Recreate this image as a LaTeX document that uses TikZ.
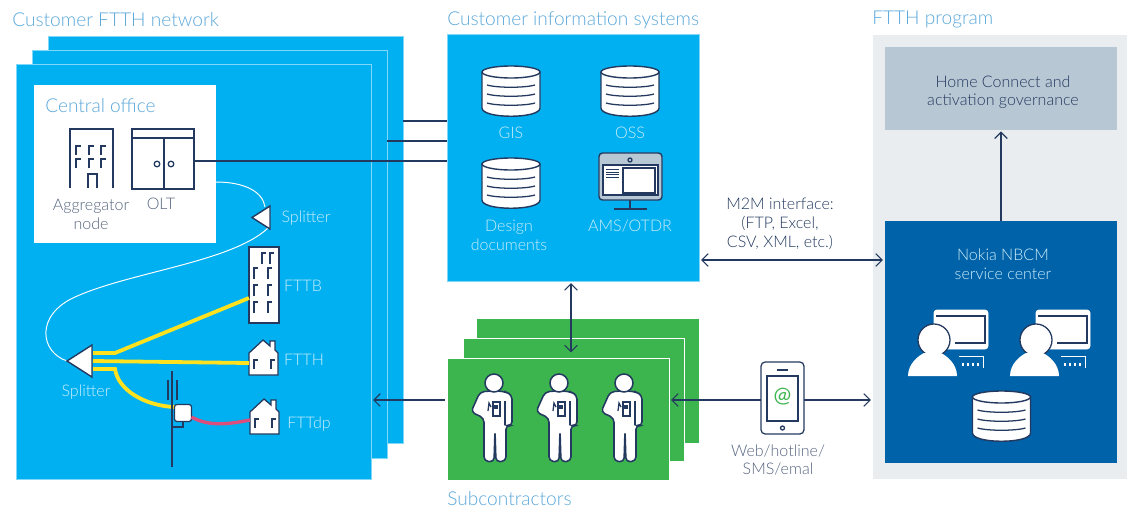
\documentclass[tikz,border=0pt]{standalone}
\usepackage{xcolor}
\usepackage{fontspec}
\setmainfont{Lato Light}
\newfontfamily\atfont{Lato}
\usetikzlibrary{calc,arrows.meta}

\definecolor{cyanbox}{HTML}{00B0F0}
\definecolor{edgeblue}{HTML}{7FD8F8}
\definecolor{greenbox}{HTML}{3DB54E}
\definecolor{navybox}{HTML}{0062A8}
\definecolor{inkline}{HTML}{24395F}
\definecolor{titleblue}{HTML}{5BA8DA}
\definecolor{paleblue}{HTML}{CDEEFB}
\definecolor{greytext}{HTML}{56657F}
\definecolor{panelgrey}{HTML}{E9EDF0}
\definecolor{govgrey}{HTML}{B8C7D4}
\definecolor{fibreyellow}{HTML}{FFE21F}
\definecolor{fibrered}{HTML}{DC4F7C}

\tikzset{
	panel/.style={rectangle,outer sep=0pt,inner sep=0pt,fill=cyanbox,draw=edgeblue,line width=0.6pt},
	titletext/.style={text=titleblue,font=\fontsize{13.6}{15}\selectfont,anchor=west,inner sep=0pt},
	smalltext/.style={text=greytext,font=\fontsize{11.4}{13.5}\selectfont,align=center,inner sep=0pt},
	paletext/.style={smalltext,text=paleblue},
	link/.style={draw=inkline,line width=0.9pt},
	barb/.tip={Straight Barb[length=4.5pt,width=9pt,line width=0.8pt]},
	flow/.style={link,shorten <=1.5pt,shorten >=1.5pt,arrows={barb-}},
	icon/.style={draw=inkline,fill=white,line width=0.9pt},
	fibrewhite/.style={draw=white,line width=0.7pt},
	fibreline/.style={draw=fibreyellow,line width=2.7pt},
	dbicon/.pic={
		\draw[icon,line width=1pt] (-29,-19) -- (-29,17) .. controls (-29,28) and (29,28) .. (29,17) -- (29,-19);
		\draw[icon,line width=1pt] (0,-19) ellipse [x radius=29,y radius=6];
		\foreach \dy in {-6,3,12}
			\draw[link] (-24,\dy) .. controls (-14,\dy+3) and (14,\dy+3) .. (24,\dy);
	},
	houseicon/.pic={
		\draw[icon] (0,0) -- (0,-22) -- (14,-35) -- (21,-29) -- (21,-34) -- (26,-34) -- (26,-25) -- (29,-22) -- (29,0) -- cycle;
		\foreach \wx in {5,22}
			\draw[link] (\wx,-6) -- (\wx,-15) -- (\wx+4,-15);
	},
	workericon/.pic={
		\draw[icon,line width=1.1pt,rounded corners=3pt] (-5,8) -- (-14,9) -- (-23,29) -- (-10,35) -- (-10,78) -- (0,79) -- (1,48) -- (2,79) -- (12,78) -- (12,42) -- (18,43) -- (18,12) -- (12,9) -- (5,8) -- cycle;
		\draw[icon,line width=1.1pt] (0,0) circle [radius=9];
		\draw[link,fill=white] (-1,19) rectangle (6,33);
		\draw[link] (-6,28) -- (-5,20) -- (-3,24);
		\fill[inkline] (0,22) rectangle (4,26);
		\draw[link] (11,18) -- (11,42);
	},
	operatoricon/.pic={
		\draw[draw=white,fill=white,rounded corners=2pt] (0,-30) rectangle (54,9);
		\draw[link] (2,-24) -- (51,-24) -- (51,3) -- (21,3);
		\draw[icon] (0,0) circle [radius=16];
		\fill[white] (-26,36) .. controls (-26,24) and (-16,16) .. (-10,13) -- (7,13) .. controls (13,16) and (23,24) .. (23,36) -- cycle;
		\draw[white,line width=0.7pt] (25,16) -- (49,16) -- (49,28);
		\foreach \kx in {29,34,39,44}
			\draw[white,line width=0.9pt] (\kx,23) -- (\kx,26);
	}
}

\begin{document}
\begin{tikzpicture}[x=0.025cm,y=-0.025cm]
	\useasboundingbox (0,0) rectangle (1127,508);

	% customer network sheets
	\node (custA) [panel,minimum width=8.875cm,minimum height=10.175cm] at (225.5,239.5) {};
	\node (custB) [panel,minimum width=8.875cm,minimum height=10.2cm] at (209.5,254) {};
	\node (custC) [panel,minimum width=8.875cm,minimum height=10.375cm] at (193.5,271.5) {};
	\node (office) [panel,fill=white,draw=none,minimum width=4.55cm,minimum height=3.95cm] at (125,164) {};

	% main boxes
	\node (cis) [panel,minimum width=6.3cm,minimum height=6.175cm] at (573,157.5) {};
	\node (subA) [panel,fill=greenbox,draw=none,minimum width=5.55cm,minimum height=3.1cm] at (588,381) {};
	\node (subB) [panel,fill=greenbox,draw=white,minimum width=5.525cm,minimum height=3.075cm] at (573.5,399.5) {};
	\node (subC) [panel,fill=greenbox,draw=white,minimum width=5.55cm,minimum height=3.05cm] at (558,419) {};
	\node (program) [panel,fill=panelgrey,draw=none,minimum width=6.35cm,minimum height=11.1cm] at (1000,257) {};
	\node (governance) [panel,fill=govgrey,draw=none,minimum width=5.8cm,minimum height=2.075cm] at (1001,88.5) {};
	\node (nbcm) [panel,fill=navybox,draw=none,minimum width=5.8cm,minimum height=6.05cm] at (1001,342) {};
	\node (govlabel) [smalltext,text=inkline,font=\fontsize{11.4}{12.5}\selectfont] at (1003,92) {Home Connect and\\activation governance};

	% titles
	\node (titleA) [titletext] at (12,20) {Customer FTTH network};
	\node (titleB) [titletext] at (447,20) {Customer information systems};
	\node (titleC) [titletext] at (872,20) {FTTH program};
	\node (titleD) [titletext] at (447,499) {Subcontractors};
	\node (titleE) [titletext] at (45,106) {Central office};

	% central office
	\draw[link] (70,188) -- (70,129) -- (113,129) -- (113,188);
	\foreach \wx in {76,89,101}
		\foreach \wy in {146,159}
			\draw[link] (\wx,\wy+9) -- (\wx,\wy) -- (\wx+5,\wy);
	\draw[link] (88,188) -- (88,174) -- (97,174) -- (97,188);
	\node (olt) [rectangle,draw=inkline,line width=0.9pt,outer sep=0pt,minimum width=1.55cm,minimum height=1.5cm] at (163,159) {};
	\draw[link] (132,138) -- (194,138);
	\draw[link] (164,138) -- (164,189);
	\draw[link] (157,164) circle [radius=2.8];
	\draw[link] (171,164) circle [radius=2.8];
	\node (aggrlabel) [smalltext] at (91,214) {Aggregator\\node};
	\node (oltlabel) [smalltext] at (161,204) {OLT};

	% links to the information systems
	\coordinate (linkA) at (0,121);
	\coordinate (linkB) at (0,141);
	\coordinate (linkC) at (0,161);
	\draw[link] (custA.east |- linkA) -- (cis.west |- linkA);
	\draw[link] (custB.east |- linkB) -- (cis.west |- linkB);
	\draw[link] (olt.east |- linkC) -- (cis.west |- linkC);

	% fibre plant
	\coordinate (splitA) at (252,217.5);
	\coordinate (splitB) at (67,361);
	\draw[fibrewhite] (office.east |- 0,182) .. controls (245,182) and (263,192) .. (265,207);
	\draw[fibrewhite] (268,228) .. controls (232,262) and (130,272) .. (75,297) .. controls (35,315) and (40,352) .. (splitB);
	\draw[icon,line width=1pt] (splitA) -- (270,206) -- (270,229) -- cycle;
	\draw[icon,line width=1pt] (splitB) -- (92,345) -- (92,377) -- cycle;
	\node (splitAlabel) [paletext] at (306,218) {Splitter};
	\node (splitBlabel) [paletext] at (86,392) {Splitter};

	\node (fttb) [rectangle,draw=inkline,fill=white,line width=0.9pt,outer sep=0pt,minimum width=0.75cm,minimum height=1.9cm] at (264,285) {};
	\foreach \wx/\wy in {262/253,270/253,254/268,268/268,254/285,268/285,254/302,268/302}
		\draw[link] (\wx,\wy+11) -- (\wx,\wy) -- (\wx+4,\wy);
	\pic at (249,375) {houseicon};
	\pic at (250,434) {houseicon};
	\coordinate (homeA) at (249,363);
	\coordinate (homeB) at (250,420);
	\node (fttblabel) [paletext] at (303,286) {FTTB};
	\node (fttharea) [paletext] at (304,360) {FTTH};
	\node (fttdplabel) [paletext] at (309,424) {FTTdp};

	\draw[fibreline] (93,353) -- (115,353) -- (fttb.west |- 0,298);
	\draw[fibreline] (93,361) -- (homeA);
	\draw[fibreline] (93,369) -- (115,369) .. controls (118,390) and (145,406) .. (175,407);

	% pole and distribution point
	\draw[link] (172,371) -- (172,467);
	\draw[link] (168,380) -- (168,400);
	\draw[link] (177,380) -- (177,400);
	\draw[link] (183,421) -- (183,427) -- (172,427);
	\node (dpbox) [rectangle,rounded corners=1.5pt,draw=inkline,fill=white,line width=0.9pt,outer sep=0pt,minimum width=0.42cm,minimum height=0.42cm] at (183,413) {};
	\draw[draw=fibrered,line width=2.4pt] (dpbox.east |- 0,417) .. controls (208,426) and (225,425) .. (homeB);

	% information systems
	\pic at (511,91) {dbicon};
	\pic at (630,91) {dbicon};
	\pic at (511,183) {dbicon};
	\node (gislabel) [paletext] at (511,133) {GIS};
	\node (osslabel) [paletext] at (630,133) {OSS};
	\node (designlabel) [paletext] at (509,235) {Design\\documents};
	\node (amslabel) [paletext] at (630,226) {AMS/OTDR};
	\draw[link] (630,200) -- (630,209);
	\draw[link,line width=1.1pt] (614,209) -- (647,209);
	\node (amsscreen) [rectangle,rounded corners=2.5pt,draw=inkline,fill=govgrey,line width=1pt,outer sep=0pt,minimum width=1.575cm,minimum height=1.175cm] at (630.5,176.5) {};
	\draw[link] (630,160) circle [radius=2];
	\draw[link,fill=white] (603,165) rectangle (658,195);
	\draw[link,fill=white] (623,168) rectangle (655,193);
	\foreach \ly in {169.5,172,174.5,177}
		\draw[draw=inkline,line width=0.5pt] (606,\ly) -- (619,\ly);

	% subcontractors
	\foreach \px in {494,559,624}
		\pic at (\px,383) {workericon};

	% phone
	\node (phone) [rectangle,rounded corners=3pt,draw=inkline,fill=white,line width=0.9pt,outer sep=0pt,minimum width=1.075cm,minimum height=1.8cm] at (782.5,398) {};
	\draw[link] (767,376) rectangle (798,421);
	\draw[link] (777,370) -- (788,370);
	\draw[link] (782.5,428) circle [radius=2];
	\node (phoneat) [text=greenbox,font=\atfont\fontsize{15}{15}\selectfont,inner sep=0pt] at (782.5,397) {@};
	\node (phonelabel) [smalltext] at (778,460) {Web/hotline/\\SMS/emal};

	% service center
	\node (nbcmlabel) [paletext] at (1003,264.5) {Nokia NBCM\\service center};
	\foreach \px in {934,1036}
		\pic at (\px,340) {operatoricon};
	\pic at (1001.5,416) {dbicon};

	% connectors with arrows
	\coordinate (flowline) at (0,400);
	\coordinate (m2mline) at (0,260);
	\coordinate (cisdrop) at (571,0);
	\coordinate (govline) at (1001,0);
	\node (m2mlabel) [smalltext,text=inkline] at (780,223.5) {M2M interface:\\(FTP, Excel,\\CSV, XML, etc.)};
	\draw[flow,arrows={barb-barb}] (cis.east |- m2mline) -- (nbcm.west |- m2mline);
	\draw[flow,arrows={barb-barb},shorten >=4pt] (cis.south -| cisdrop) -- (subC.north -| cisdrop);
	\draw[flow] (custC.east |- flowline) -- (subC.west |- flowline);
	\draw[flow,shorten >=0pt] (subC.east |- flowline) -- (phone.west |- flowline);
	\draw[flow,arrows={-barb},shorten <=0pt] (phone.east |- flowline) -- (program.west |- flowline);
	\draw[flow,arrows={-barb},shorten <=0pt,shorten >=1pt] (nbcm.north -| govline) -- (governance.south -| govline);
\end{tikzpicture}
\end{document}
